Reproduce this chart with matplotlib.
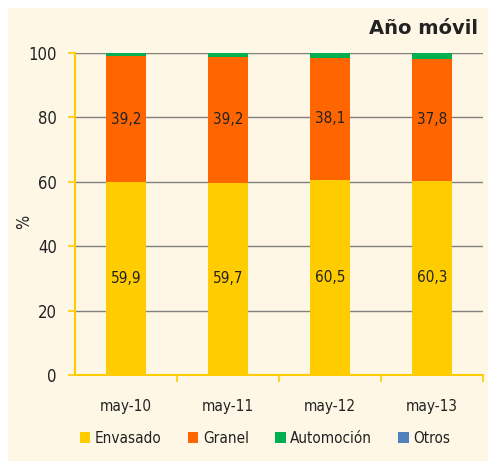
import numpy as np
import matplotlib.pyplot as plt
from matplotlib.patches import Rectangle

# Datos (% sobre el total, año móvil)
categorias = ['may-10', 'may-11', 'may-12', 'may-13']
envasado = [59.9, 59.7, 60.5, 60.3]
granel = [39.2, 39.2, 38.1, 37.8]
automocion = [0.8, 1.0, 1.3, 1.8]
otros = [0.1, 0.1, 0.1, 0.1]

series = ['Envasado', 'Granel', 'Automoción', 'Otros']
colores = ['#FFCC00', '#FF6600', '#00B050', '#4F81BD']

plt.rcParams['font.family'] = ['DejaVu Sans']
plt.rcParams['font.stretch'] = 'condensed'

fig = plt.figure(figsize=(4.88, 4.61), dpi=100)
fig.patch.set_facecolor('white')
# fondo crema con borde blanco arriba y a la izquierda
fig.patches.append(Rectangle((8 / 488, 0), 1, 1 - 8 / 461, transform=fig.transFigure,
                             facecolor='#FEF7E6', edgecolor='none', zorder=-10))

ax = fig.add_axes([75 / 488, 86 / 461, 408 / 488, 322 / 461])
ax.set_facecolor('none')

x = np.arange(len(categorias))
datos = [envasado, granel, automocion, otros]
base = np.zeros(len(categorias))
barras = []
for vals, nom, col in zip(datos, series, colores):
    b = ax.bar(x, vals, width=0.4, bottom=base, color=col, label=nom, zorder=3)
    barras.append(b)
    base = base + np.array(vals)

# etiquetas de valor en Envasado y Granel
for b, vals in zip(barras[:2], datos[:2]):
    for rect, v in zip(b, vals):
        ax.text(rect.get_x() + rect.get_width() / 2, rect.get_y() + rect.get_height() / 2,
                f'{v:.1f}'.replace('.', ','), ha='center', va='center',
                fontsize=11, color='#222222', zorder=4)

ax.set_xlim(-0.5, 3.5)
ax.set_ylim(0, 100)
ax.set_yticks(range(0, 101, 20))
ax.yaxis.grid(True, color='#808080', linewidth=1, zorder=1)

ax.set_xticks([0.5, 1.5, 2.5, 3.5])
ax.set_xticklabels([])
ax.set_xticks(x, minor=True)
ax.set_xticklabels(categorias, minor=True, fontsize=11, color='#222222')
ax.tick_params(axis='x', which='minor', length=0, pad=17)
ax.tick_params(axis='x', which='major', length=5, color='#FFCC00', width=1.2)
ax.tick_params(axis='y', length=5, color='#FFCC00', width=1.2, labelsize=12,
               labelcolor='#222222', pad=8)

for s in ['top', 'right']:
    ax.spines[s].set_visible(False)
ax.spines['left'].set_color('#FFCC00')
ax.spines['bottom'].set_color('#FFCC00')
ax.spines['left'].set_linewidth(1.5)
ax.spines['bottom'].set_linewidth(1.5)

fig.text(24 / 488, 1 - 222 / 461, '%', rotation=90, ha='center', va='center',
         fontsize=12, color='#222222')

fig.text(478 / 488, 1 - 28 / 461, 'Año móvil', ha='right', va='center',
         fontsize=14, fontweight='bold', color='#222222', stretch='normal')

ax.legend(loc='center', bbox_to_anchor=(265 / 488, 23 / 461), bbox_transform=fig.transFigure,
          ncol=4, frameon=False, fontsize=11, handlelength=0.7, handleheight=0.7,
          handletextpad=0.3, columnspacing=1.7, labelcolor='#222222')

fig.savefig('out.png', dpi=100, facecolor=fig.get_facecolor())
